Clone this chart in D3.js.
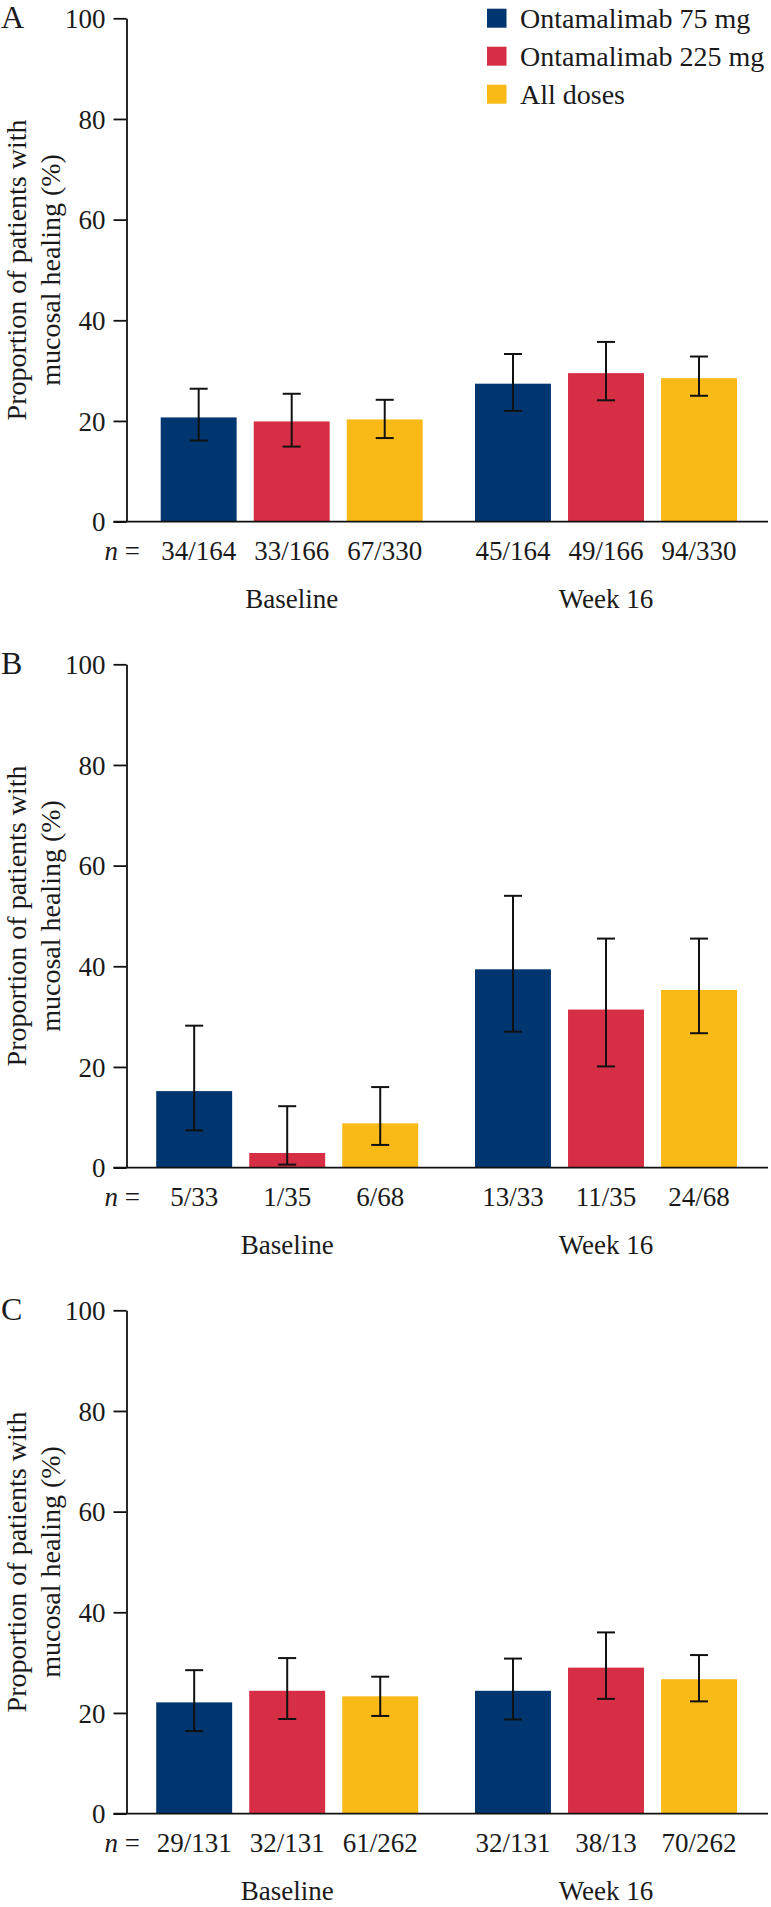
<!DOCTYPE html>
<html>
<head>
<meta charset="utf-8">
<script src="https://cdn.jsdelivr.net/npm/d3@7"></script>
<style>
  html, body { margin: 0; padding: 0; background: #ffffff; }
  svg { display: block; }
  text { font-family: "Liberation Serif", "DejaVu Serif", serif; fill: #1a1a1a; }
</style>
</head>
<body>
<svg id="chart" width="771" height="1907"></svg>
<script>
// ---------- data ----------
const groups = ["Baseline", "Week 16"];
const series = ["Ontamalimab 75 mg", "Ontamalimab 225 mg", "All doses"];
const seriesColors = ["#003670", "#D62F45", "#F9B916"];
const yTicks = [0, 20, 40, 60, 80, 100];
const panelLetters = ["A", "B", "C"];
const yTitleLines = ["Proportion of patients with", "mucosal healing (%)"];

// values per group (Baseline, Week 16), per series (75 mg, 225 mg, All doses)
const valuesA = [[20.7, 19.9, 20.3], [27.4, 29.5, 28.5]];
const lowerA  = [[16.1, 14.9, 16.6], [22.0, 24.1, 25.0]];
const upperA  = [[26.4, 25.4, 24.2], [33.3, 35.7, 32.8]];
const nLabelsA = [["34/164", "33/166", "67/330"], ["45/164", "49/166", "94/330"]];

const valuesB = [[15.2, 2.9, 8.8], [39.4, 31.4, 35.3]];
const lowerB  = [[7.4, 0.6, 4.5], [27.0, 20.1, 26.7]];
const upperB  = [[28.2, 12.2, 16.0], [54.0, 45.5, 45.5]];
const nLabelsB = [["5/33", "1/35", "6/68"], ["13/33", "11/35", "24/68"]];

const valuesC = [[22.1, 24.4, 23.3], [24.4, 29.0, 26.7]];
const lowerC  = [[16.4, 18.8, 19.4], [18.7, 22.8, 22.3]];
const upperC  = [[28.5, 30.9, 27.2], [30.8, 36.0, 31.5]];
const nLabelsC = [["29/131", "32/131", "61/262"], ["32/131", "38/13", "70/262"]];

const panelValues = [valuesA, valuesB, valuesC];
const panelLower = [lowerA, lowerB, lowerC];
const panelUpper = [upperA, upperB, upperC];
const panelNLabels = [nLabelsA, nLabelsB, nLabelsC];

// ---------- layout ----------
const panelOffsets = [0, 646, 1292];
const groupStart = [160.7, 156.2, 156.2];
const groupEnd = 737;
const groupWidth = 262;
const axisX = 126.5;
const yTop = 18.3, yBottom = 521.6;
const xAxisEnd = 768;

const svg = d3.select("#chart");

panelLetters.forEach((letter, p) => {
  const off = panelOffsets[p];
  const g = svg.append("g");

  const y = d3.scaleLinear().domain([0, 100]).range([yBottom + off, yTop + off]);
  const W = groupEnd - groupStart[p];
  const x0 = d3.scaleBand().domain(groups)
    .range([groupStart[p], groupEnd])
    .paddingInner((W - 2 * groupWidth) / (W - groupWidth))
    .paddingOuter(0);
  const x1 = d3.scaleBand().domain(series)
    .range([0, x0.bandwidth()])
    .paddingInner(0.1836)
    .paddingOuter(0);
  const color = d3.scaleOrdinal().domain(series).range(seriesColors);

  const vals = panelValues[p], lo = panelLower[p], hi = panelUpper[p], nl = panelNLabels[p];
  const recs = [];
  groups.forEach((gr, gi) => series.forEach((s, si) => {
    recs.push({ group: gr, series: s, v: vals[gi][si], lo: lo[gi][si], hi: hi[gi][si], n: nl[gi][si] });
  }));

  // bars
  g.selectAll("rect.bar").data(recs).join("rect")
    .attr("class", "bar")
    .attr("x", d => x0(d.group) + x1(d.series))
    .attr("width", x1.bandwidth())
    .attr("y", d => y(d.v))
    .attr("height", d => y(0) - y(d.v))
    .attr("fill", d => color(d.series));

  // error bars
  const capW = 18;
  const cx = d => x0(d.group) + x1(d.series) + x1.bandwidth() / 2;
  const eb = g.selectAll("g.err").data(recs).join("g").attr("class", "err")
    .attr("stroke", "#111").attr("stroke-width", 2).attr("fill", "none");
  eb.append("line")
    .attr("x1", cx).attr("x2", cx)
    .attr("y1", d => y(d.lo)).attr("y2", d => y(d.hi));
  ["lo", "hi"].forEach(k => {
    eb.append("line")
      .attr("x1", d => cx(d) - capW / 2)
      .attr("x2", d => cx(d) + capW / 2)
      .attr("y1", d => y(d[k])).attr("y2", d => y(d[k]));
  });

  // y axis
  const yAxis = d3.axisLeft(y).tickValues(yTicks).tickSize(13).tickSizeOuter(0).tickPadding(8);
  const ya = g.append("g").attr("transform", `translate(${axisX},0)`).call(yAxis);
  ya.select(".domain").attr("stroke", "#111").attr("stroke-width", 1.8);
  ya.selectAll(".tick line").attr("stroke", "#111").attr("stroke-width", 1.8);
  ya.selectAll(".tick text").attr("font-size", 27)
    .attr("font-family", "'Liberation Serif', serif").attr("fill", "#1a1a1a").attr("dy", "0.34em");

  // x axis baseline
  g.append("line")
    .attr("x1", axisX - 13).attr("x2", xAxisEnd)
    .attr("y1", y(0)).attr("y2", y(0))
    .attr("stroke", "#111").attr("stroke-width", 1.8);

  // n labels
  const nY = y(0) + 38.5;
  const nt = g.append("text").attr("x", 140).attr("y", nY).attr("text-anchor", "end").attr("font-size", 27);
  nt.append("tspan").attr("font-style", "italic").text("n");
  nt.append("tspan").text(" =");
  g.selectAll("text.nlab").data(recs).join("text").attr("class", "nlab")
    .attr("x", cx)
    .attr("y", nY).attr("text-anchor", "middle").attr("font-size", 27)
    .text(d => d.n);

  // group labels
  g.selectAll("text.glab").data(groups).join("text").attr("class", "glab")
    .attr("x", d => x0(d) + x0.bandwidth() / 2)
    .attr("y", y(0) + 86.5).attr("text-anchor", "middle").attr("font-size", 27)
    .text(d => d);

  // y title
  const cy = (y(0) + y(100)) / 2;
  yTitleLines.forEach((line, i) => {
    g.append("text")
      .attr("transform", `translate(${26 + i * 34},${cy}) rotate(-90)`)
      .attr("text-anchor", "middle").attr("font-size", 28)
      .text(line);
  });

  // panel letter
  g.append("text").attr("x", 1).attr("y", off + 28).attr("font-size", 32).text(letter);

  // legend (panel A only)
  if (p === 0) {
    const lg = g.append("g");
    series.forEach((s, i) => {
      const ly = 27.7 + i * 38;
      lg.append("rect").attr("x", 487).attr("y", ly - 19).attr("width", 19.5).attr("height", 19)
        .attr("fill", color(s));
      lg.append("text").attr("x", 520).attr("y", ly).attr("font-size", 28).text(s);
    });
  }
});
</script>
</body>
</html>
